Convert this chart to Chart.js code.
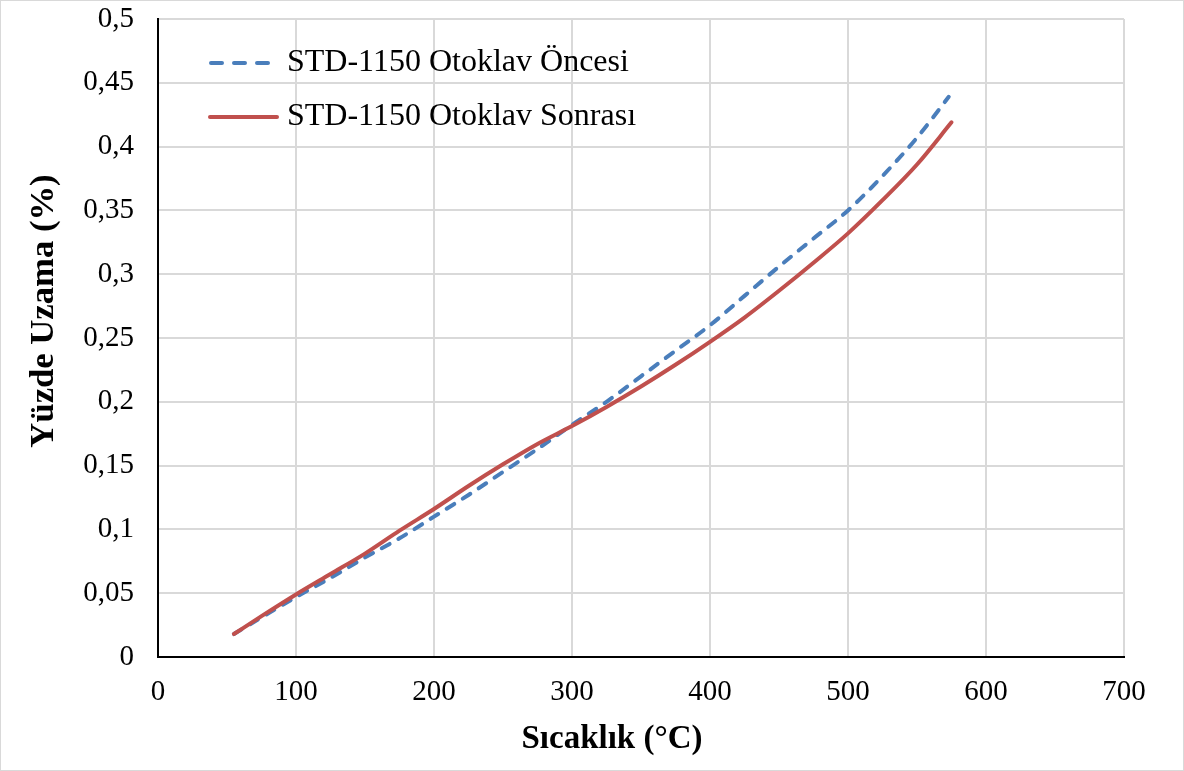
<!DOCTYPE html>
<html>
<head>
<meta charset="utf-8">
<script src="https://cdn.jsdelivr.net/npm/chart.js@4.4.1/dist/chart.umd.min.js"></script>
<style>
  body { margin: 0; background: #fff; }
  #wrap { width: 1184px; height: 771px; }
</style>
</head>
<body>
<div id="wrap"><canvas id="grafik" width="1184" height="771"></canvas></div>
<script>
// Sıcaklık (°C) ve yüzde uzama değerleri
const sicaklikOnce = [55, 75, 100, 125, 150, 175, 200, 225, 250, 275, 300, 325, 350, 375, 400, 425, 450, 475, 500, 525, 550, 573];
const uzamaOnce    = [0.018, 0.031, 0.047, 0.062, 0.078, 0.093, 0.110, 0.127, 0.145, 0.163, 0.182, 0.200, 0.220, 0.240, 0.260, 0.283, 0.306, 0.328, 0.350, 0.377, 0.407, 0.439];

const sicaklikSonra = [55, 75, 100, 125, 150, 175, 200, 225, 250, 275, 300, 325, 350, 375, 400, 425, 450, 475, 500, 525, 550, 575];
const uzamaSonra    = [0.018, 0.032, 0.049, 0.065, 0.081, 0.099, 0.116, 0.134, 0.151, 0.167, 0.181, 0.196, 0.212, 0.229, 0.247, 0.266, 0.287, 0.309, 0.332, 0.358, 0.386, 0.419];

const seriAdlari = ['STD-1150 Otoklav Öncesi', 'STD-1150 Otoklav Sonrası'];
const yEtiketleri = ['0', '0,05', '0,1', '0,15', '0,2', '0,25', '0,3', '0,35', '0,4', '0,45', '0,5'];
const xEtiketleri = ['0', '100', '200', '300', '400', '500', '600', '700'];

const mavi = '#4a7ebb';
const kirmizi = '#c0504d';
const yazi = '"Liberation Serif", "Times New Roman", serif';

function noktalar(xs, ys) {
  return xs.map((x, i) => ({ x: x, y: ys[i] }));
}

// Eksen başlıkları, gösterge ve çerçeve
const ekler = {
  id: 'ekler',
  afterDraw(chart) {
    const ctx = chart.ctx;
    ctx.save();
    ctx.fillStyle = '#000';
    ctx.textAlign = 'center';
    ctx.textBaseline = 'middle';
    ctx.font = 'bold 33px ' + yazi;
    ctx.fillText('Sıcaklık (°C)', 612, 739);
    ctx.translate(44, 311);
    ctx.rotate(-Math.PI / 2);
    ctx.scale(1.05, 1);
    ctx.fillText('Yüzde Uzama (%)', 0, 0);
    ctx.restore();

    // gösterge
    ctx.save();
    ctx.lineWidth = 4;
    ctx.lineCap = 'round';
    ctx.strokeStyle = mavi;
    ctx.setLineDash([11, 12]);
    ctx.beginPath();
    ctx.moveTo(211, 63);
    ctx.lineTo(276, 63);
    ctx.stroke();
    ctx.setLineDash([]);
    ctx.strokeStyle = kirmizi;
    ctx.beginPath();
    ctx.moveTo(210, 117);
    ctx.lineTo(277, 117);
    ctx.stroke();
    ctx.fillStyle = '#000';
    ctx.font = '32px ' + yazi;
    ctx.textAlign = 'left';
    ctx.textBaseline = 'middle';
    ctx.fillText(seriAdlari[0], 287, 63);
    ctx.fillText(seriAdlari[1], 287, 117);

    // dış çerçeve
    ctx.strokeStyle = '#d9d9d9';
    ctx.lineWidth = 1;
    ctx.strokeRect(0.5, 0.5, 1183, 770);
    ctx.restore();
  }
};

new Chart(document.getElementById('grafik').getContext('2d'), {
  type: 'line',
  data: {
    datasets: [
      {
        label: seriAdlari[0],
        data: noktalar(sicaklikOnce, uzamaOnce),
        borderColor: mavi,
        borderWidth: 4,
        borderDash: [9, 10],
        borderCapStyle: 'round',
        pointRadius: 0,
        cubicInterpolationMode: 'monotone',
        order: 2
      },
      {
        label: seriAdlari[1],
        data: noktalar(sicaklikSonra, uzamaSonra),
        borderColor: kirmizi,
        borderWidth: 4,
        borderCapStyle: 'round',
        pointRadius: 0,
        cubicInterpolationMode: 'monotone',
        order: 1
      }
    ]
  },
  options: {
    responsive: false,
    animation: false,
    layout: { padding: { left: 0, right: 60, top: 19, bottom: 0 } },
    plugins: {
      legend: { display: false },
      tooltip: { enabled: false }
    },
    scales: {
      x: {
        type: 'linear',
        min: 0,
        max: 700,
        afterFit(scale) {
          scale.height = 114;
          scale.paddingLeft = 0;
          scale.paddingRight = 0;
        },
        ticks: {
          stepSize: 100,
          padding: 21,
          color: '#000',
          font: { family: yazi, size: 29, lineHeight: 1 },
          callback: (v, i) => xEtiketleri[i]
        },
        grid: { color: '#d9d9d9', lineWidth: 2, drawTicks: false },
        border: { color: '#000', width: 2 }
      },
      y: {
        min: 0,
        max: 0.5,
        afterFit(scale) {
          scale.width = 158;
          scale.paddingTop = 0;
          scale.paddingBottom = 0;
        },
        ticks: {
          stepSize: 0.05,
          padding: 24,
          color: '#000',
          font: { family: yazi, size: 29, lineHeight: 1 },
          callback: (v, i) => yEtiketleri[i]
        },
        grid: { color: '#d9d9d9', lineWidth: 2, drawTicks: false },
        border: { color: '#000', width: 2 }
      }
    }
  },
  plugins: [ekler]
});
</script>
</body>
</html>
